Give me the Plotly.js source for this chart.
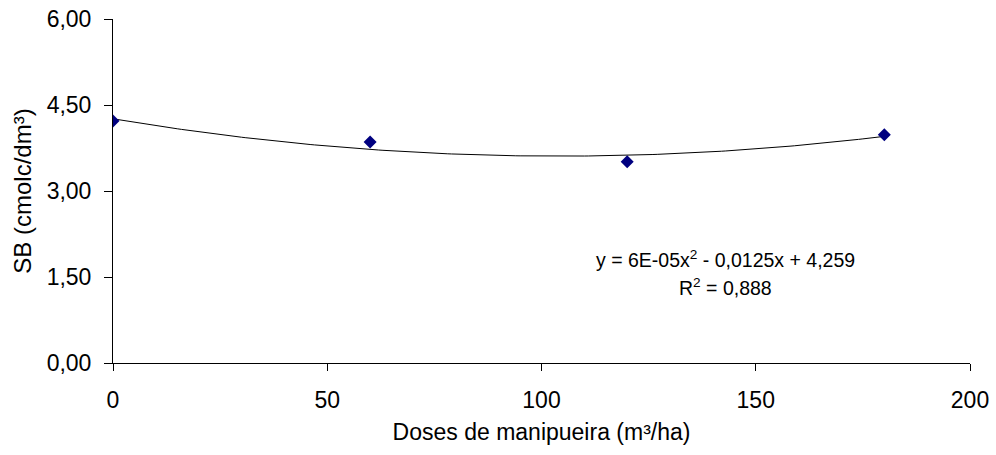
<!DOCTYPE html>
<html>
<head>
<meta charset="utf-8">
<script src="https://cdn.plot.ly/plotly-3.0.1.min.js"></script>
<style>html,body{margin:0;padding:0;background:#fff;}#chart{width:996px;height:455px;}</style>
</head>
<body>
<div id="chart"></div>
<script>
// Data
var doses = [0, 60, 120, 180];
var sbValues = [4.22, 3.855, 3.51, 3.98];
// Trendline coefficients shown in the chart: y = a x^2 + b x + c
var trendCoef = [6e-5, -0.0125, 4.259];
var xTicks = [0, 50, 100, 150, 200];
var yTicks = [0, 1.5, 3, 4.5, 6];

var trendX = [], trendY = [];
for (var x = 0; x <= 180; x += 1) {
  trendX.push(x);
  trendY.push(trendCoef[0] * x * x + trendCoef[1] * x + trendCoef[2]);
}

var font = 'Liberation Sans, Arial, sans-serif';
var data = [
  {x: trendX, y: trendY, type: 'scatter', mode: 'lines',
   line: {color: '#000000', width: 1}, hoverinfo: 'skip', showlegend: false},
  {x: doses, y: sbValues, type: 'scatter', mode: 'markers',
   marker: {symbol: 'diamond', color: '#000080', size: 10}, showlegend: false}
];

var layout = {
  width: 996, height: 455,
  margin: {l: 113, r: 26, t: 19, b: 92},
  paper_bgcolor: '#fff', plot_bgcolor: '#fff',
  separators: ',.',
  font: {family: font, color: '#000', size: 20},
  xaxis: {
    range: [0, 200], tickvals: xTicks, ticktext: xTicks.map(String),
    showline: true, linecolor: '#000', linewidth: 1, mirror: false,
    ticks: 'outside', ticklen: 7, tickcolor: '#000', tickwidth: 1,
    ticklabelstandoff: 9,
    showgrid: false, zeroline: false,
    tickfont: {family: font, size: 23, color: '#000'},
    title: {text: 'Doses de manipueira (m³/ha)', font: {family: font, size: 23, color: '#000'}, standoff: 12}
  },
  yaxis: {
    range: [0, 6], tickvals: yTicks, tickformat: '.2f',
    showline: true, linecolor: '#000', linewidth: 1,
    ticks: 'outside', ticklen: 8, tickcolor: '#000', tickwidth: 1,
    ticklabelstandoff: 8,
    showgrid: false, zeroline: false,
    tickfont: {family: font, size: 23, color: '#000'},
    title: {text: 'SB (cmolc/dm³)', font: {family: font, size: 24, color: '#000'}, standoff: 8}
  },
  annotations: [
    {xref: 'x', yref: 'y', x: 143, y: 1.81, xanchor: 'center', yanchor: 'middle', showarrow: false,
     text: 'y = 6E-05x<sup>2</sup> - 0,0125x + 4,259', font: {family: font, size: 19.5, color: '#000'}},
    {xref: 'x', yref: 'y', x: 143, y: 1.33, xanchor: 'center', yanchor: 'middle', showarrow: false,
     text: 'R<sup>2</sup> = 0,888', font: {family: font, size: 19.5, color: '#000'}}
  ]
};

Plotly.newPlot('chart', data, layout, {displayModeBar: false, staticPlot: true});
</script>
</body>
</html>
